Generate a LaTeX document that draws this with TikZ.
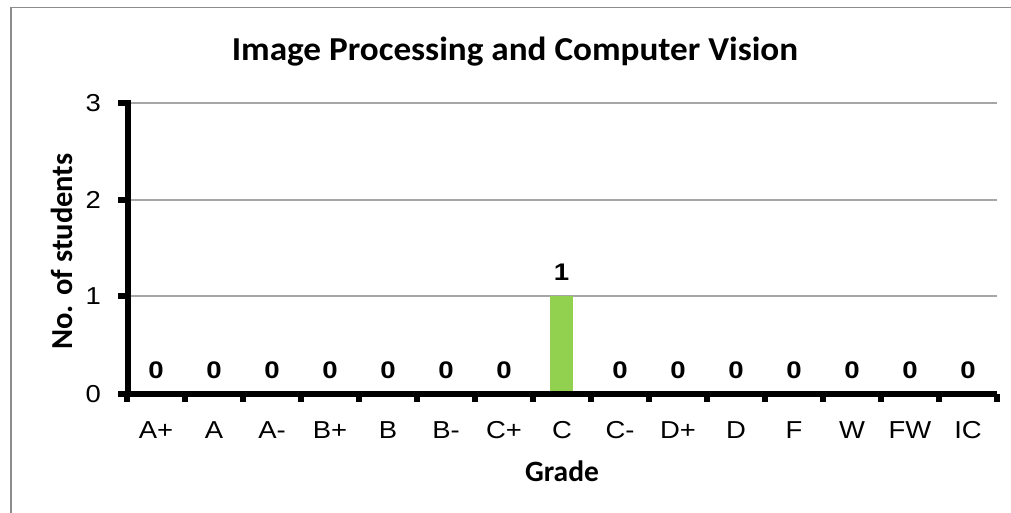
\documentclass[tikz,border=0pt]{standalone}
\usepackage{fontspec}
\setmainfont{Liberation Sans}
\newfontfamily\calfont{Carlito}
\definecolor{framegray}{HTML}{8C8C8C}
\definecolor{gridgray}{HTML}{A6A6A6}
\definecolor{bargreen}{HTML}{92D050}
\begin{document}
\begin{tikzpicture}[x=1pt,y=-1pt,
  ticklab/.style={inner sep=0pt,xscale=1.12,font=\fontsize{24.5}{28}\selectfont},
  datalab/.style={inner sep=0pt,anchor=base,xscale=1.15,font=\fontsize{24}{28}\selectfont\bfseries},
  catlab/.style={inner sep=0pt,anchor=base,xscale=1.12,font=\fontsize{24.5}{28}\selectfont},
  gridline/.style={draw=gridgray,line width=1.3pt},
  axisline/.style={draw=black,line width=5.5pt},
  tickmark/.style={draw=black,line width=6pt}]
\useasboundingbox (0,0) rectangle (1011,513);
\fill[white] (0,0) rectangle (1011,513);
% frame (only top and left sides visible)
\coordinate (frTL) at (11,7.5);
\coordinate (frTR) at (1011,7.5);
\coordinate (frBL) at (11,513);
\draw[framegray,line width=1.3pt] (frBL) -- (frTL) -- (frTR);
% title
\node[inner sep=0pt,anchor=base,xscale=1.05,font=\calfont\fontsize{33.5}{38}\selectfont\bfseries] (title) at (515,61) {Image Processing and Computer Vision};
% gridlines
\foreach \v/\y in {1/296,2/200,3/103}{
  \coordinate (gl\v) at (130,\y);
  \coordinate (gr\v) at (997,\y);
  \draw[gridline] (gl\v) -- (gr\v);
}
% bar
\fill[bargreen] (550,296) rectangle (573,394);
% axes
\coordinate (yTop) at (128,100.5);
\coordinate (origin) at (128,394);
\coordinate (xEnd) at (997,394);
\draw[axisline] (yTop) -- (128,396.7);
\draw[axisline] (118,394) -- (xEnd);
% y ticks and labels
\foreach \v/\y in {0/394,1/296,2/200,3/103}{
  \coordinate (yt\v) at (118,\y);
  \draw[tickmark] (yt\v) -- (128,\y);
  \node[ticklab,anchor=base east] (ylab\v) at (101,\y+8.5) {\v};
}
% x ticks
\foreach \i in {0,...,15}{
  \coordinate (xt\i) at (127+58*\i,394);
  \draw[tickmark] (xt\i) -- (127+58*\i,402);
}
% categories
\foreach \g [count=\i from 0] in {A+,A,A-,B+,B,B-,C+,C,C-,D+,D,F,W,FW,IC}{
  \node[catlab] (cat\i) at (156+58*\i,438.5) {\g};
}
% data labels
\foreach \i in {0,...,6,8,9,...,14}{
  \node[datalab] (dl\i) at (156+58*\i,378.5) {0};
}
\node[datalab] (dl7) at (561.5,280.5) {1};
% axis titles
\node[inner sep=0pt,anchor=base,font=\calfont\fontsize{29.5}{34}\selectfont\bfseries] (xtitle) at (562,481) {Grade};
\node[inner sep=0pt,anchor=base,rotate=90,font=\calfont\fontsize{30.5}{35}\selectfont\bfseries] (ytitle) at (72,251.5) {No. of students};
\end{tikzpicture}
\end{document}
